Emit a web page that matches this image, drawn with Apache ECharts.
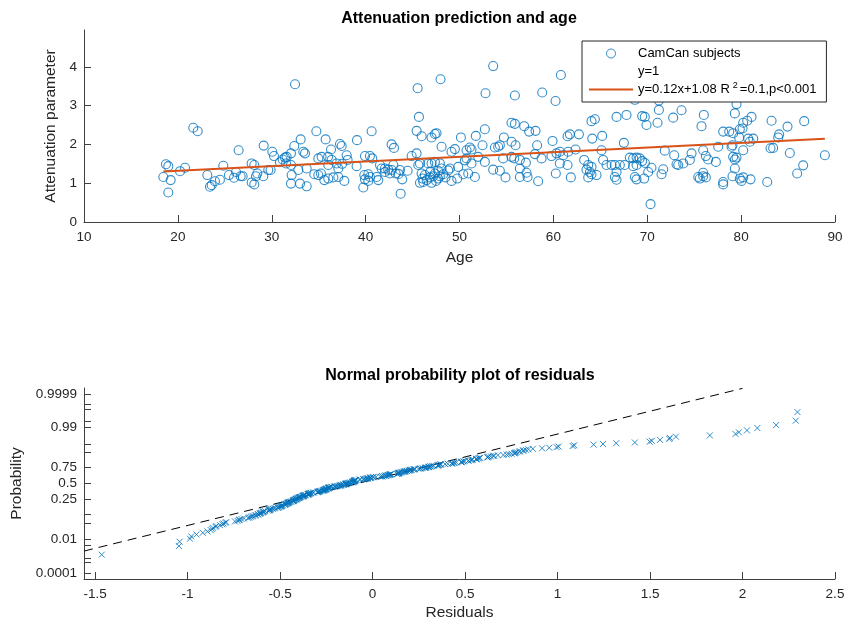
<!DOCTYPE html>
<html>
<head>
<meta charset="utf-8">
<script src="https://cdn.jsdelivr.net/npm/echarts@6.0.0/dist/echarts.min.js"></script>
<style>
  html, body { margin: 0; padding: 0; background: #fff; }
  #chart { width: 848px; height: 628px; }
</style>
</head>
<body>
<div id="chart"></div>
<script>
// subjects: age (years) and attenuation parameter
var ages = [
  18.45,18.73,18.98,19.23,18.98,20.23,20.76,21.64,22.11,23.14,23.42,23.60,23.95,24.48,24.84,25.44,25.98,26.19,26.47,26.69,
  26.90,27.86,27.86,28.14,28.14,28.32,28.46,29.14,29.10,29.63,29.88,30.06,30.24,30.87,31.16,31.41,
  32.48,31.59,32.05,32.40,33.08,33.36,33.54,34.75,35.74,36.31,37.27,37.45,37.98,39.08,40.64,42.77,43.02,45.54,45.68,45.43,
  45.97,31.52,32.05,32.83,32.12,33.72,32.05,33.01,33.72,34.53,34.96,35.31,34.96,35.24,35.60,36.02,36.38,36.02,36.56,36.91,
  37.09,37.09,37.73,38.08,39.04,39.93,40.46,40.71,39.86,40.28,40.46,39.93,40.28,39.75,41.53,41.70,42.06,42.41,42.77,42.59,
  42.06,42.95,41.17,41.35,43.66,44.47,43.90,43.73,44.90,45.43,45.61,45.79,45.79,46.14,37.50,43.20,43.50,36.00,
  53.59,47.98,52.77,55.90,58.81,60.23,60.80,55.54,55.90,56.89,57.42,58.10,52.70,47.38,47.55,47.02,48.09,50.15,51.74,54.73,
  49.51,50.75,51.10,51.28,52.45,53.77,54.12,54.30,55.54,55.97,58.27,59.91,49.15,51.99,50.75,52.70,51.28,54.65,55.54,56.43,
  57.07,58.03,58.74,59.80,60.33,49.86,48.97,46.67,47.02,47.38,47.91,48.09,47.73,47.38,46.31,45.96,46.06,46.84,47.20,47.91,
  48.26,47.73,47.02,49.15,49.76,50.40,51.64,53.59,54.30,54.90,56.43,56.43,57.14,57.25,58.38,50.57,55.83,48.80,50.93,60.26,
  46.50,47.50,46.90,48.50,
  68.68,71.24,71.24,73.65,71.09,69.74,69.46,69.92,67.79,66.73,72.76,64.06,64.42,61.76,61.51,62.72,64.14,65.20,67.51,60.69,
  61.05,61.58,60.69,61.51,62.36,63.28,63.71,64.06,63.53,63.89,64.60,64.06,65.13,65.30,65.66,66.20,66.55,67.08,67.60,66.73,
  66.55,66.73,68.15,68.50,68.86,69.20,69.46,69.75,68.86,68.50,70.45,70.10,68.68,68.86,69.67,71.52,71.70,71.87,72.87,73.12,
  73.30,73.83,74.54,61.86,63.71,70.35,
  79.51,79.33,76.03,75.78,81.11,80.22,80.65,83.24,84.94,86.72,78.09,78.73,79.15,79.86,80.15,79.79,80.75,81.29,80.93,84.05,
  83.95,77.56,78.98,79.08,80.22,83.13,83.41,85.19,74.72,75.96,76.24,76.49,77.31,79.15,79.33,79.51,79.33,75.43,75.60,75.96,
  76.24,75.96,78.09,78.09,79.08,79.86,80.04,80.22,81.00,82.78,85.97,86.61,88.92,
  66.00,74.00,84.00,70.00,78.00,81.00,86.00
];
var attenuation = [
  1.16,1.49,1.44,1.08,0.76,1.31,1.40,2.43,2.34,1.21,0.91,0.95,1.05,1.09,1.45,1.21,1.14,1.29,1.85,1.18,
  1.18,1.51,1.02,0.97,1.47,1.18,1.25,1.97,1.18,1.34,1.34,1.81,1.70,1.54,1.61,1.66,
  3.55,1.68,1.77,1.96,2.13,1.81,1.77,2.34,2.13,1.87,2.01,1.96,1.72,2.11,2.34,2.00,1.91,3.45,2.71,2.35,
  2.21,1.51,1.47,1.34,1.21,1.38,0.99,0.99,0.92,1.23,1.64,1.68,1.21,1.25,1.08,1.47,1.60,1.12,1.15,1.51,
  1.38,1.16,1.06,1.60,1.44,1.70,1.70,1.64,1.21,1.23,1.16,1.10,1.06,0.89,1.47,1.38,1.38,1.35,1.34,1.25,
  1.29,1.47,1.16,1.08,1.34,1.32,1.10,0.73,1.70,1.77,1.47,1.51,1.01,1.03,1.50,1.25,1.24,1.68,
  4.02,3.68,3.32,3.26,3.34,3.12,3.79,2.56,2.53,2.47,2.33,2.35,2.39,2.27,2.29,2.18,1.94,2.18,2.22,2.18,
  1.88,1.85,1.92,1.87,1.98,1.92,1.94,1.98,2.07,1.98,1.98,2.09,1.81,1.68,1.64,1.55,1.51,1.64,1.68,1.60,
  1.53,1.75,1.64,1.70,1.77,1.42,1.38,1.51,1.51,1.55,1.51,1.38,1.32,1.25,1.21,1.25,1.12,1.15,1.18,1.18,
  1.23,1.12,1.01,1.06,1.12,1.23,1.16,1.35,1.32,1.15,1.38,1.16,1.27,1.16,1.05,1.59,1.64,1.33,1.25,1.25,
  1.08,1.06,1.30,1.15,
  3.15,3.13,2.89,2.88,2.56,2.71,2.73,2.50,2.76,2.71,2.69,2.60,2.65,2.26,2.21,2.26,2.15,2.22,2.04,1.81,
  1.72,1.81,1.51,1.47,1.87,1.60,1.47,1.42,1.35,1.29,1.21,1.23,1.85,1.60,1.47,1.47,1.47,1.47,1.47,1.29,
  1.16,1.09,1.66,1.64,1.66,1.64,1.57,1.52,1.47,1.44,1.40,1.29,1.16,1.10,1.12,1.23,1.36,1.84,1.72,1.49,
  1.47,1.51,1.60,1.15,1.15,0.46,
  3.04,2.80,2.76,2.47,2.71,2.56,2.61,2.61,2.46,2.60,2.33,2.33,2.29,2.39,2.41,2.18,2.15,2.15,2.07,2.26,
  2.18,1.94,1.94,1.98,1.85,1.90,1.91,1.78,1.77,1.85,1.70,1.61,1.55,1.68,1.61,1.66,1.38,1.16,1.12,1.18,
  1.15,1.27,1.03,0.97,1.18,1.12,1.06,1.15,1.10,1.03,1.25,1.46,1.72,
  4.16,4.15,4.05,3.56,3.62,3.55,3.53
];
// fit from the legend: y = 0.12x + 1.08, x = age in decades
var fitSlope = 0.12;
var fitIntercept = 1.08;
var fitName = 'y=0.12x+1.08 R2=0.1,p<0.001';

// reference line of the normal probability plot (residual, normal quantile)
var refLineResid = [-1.56, 2.0];
var refLineQuantile = [-2.81, 3.945];

// axis ticks
var ageTicks = [10, 20, 30, 40, 50, 60, 70, 80, 90];
var attTicks = [0, 1, 2, 3, 4];
var residTicks = [-1.5, -1, -0.5, 0, 0.5, 1, 1.5, 2, 2.5];
var probTicks = [0.0001, 0.0005, 0.001, 0.005, 0.01, 0.05, 0.1, 0.25, 0.5, 0.75, 0.9, 0.95, 0.99, 0.995, 0.999, 0.9995, 0.9999];
var probLabels = [0.0001, 0.01, 0.25, 0.5, 0.75, 0.99, 0.9999];

// inverse normal cdf (Acklam)
function norminv(p) {
  var a = [-39.69683028665376, 220.9460984245205, -275.9285104469687, 138.3577518672690, -30.66479806614716, 2.506628277459239];
  var b = [-54.47609879822406, 161.5858368580409, -155.6989798598866, 66.80131188771972, -13.28068155288572];
  var c = [-0.007784894002430293, -0.3223964580411365, -2.400758277161838, -2.549732539343734, 4.374664141464968, 2.938163982698783];
  var d = [0.007784695709041462, 0.3224671290700398, 2.445134137142996, 3.754408661907416];
  var q, r;
  if (p < 0.02425) {
    q = Math.sqrt(-2 * Math.log(p));
    return (((((c[0]*q+c[1])*q+c[2])*q+c[3])*q+c[4])*q+c[5]) / ((((d[0]*q+d[1])*q+d[2])*q+d[3])*q+1);
  }
  if (p > 1 - 0.02425) {
    q = Math.sqrt(-2 * Math.log(1 - p));
    return -(((((c[0]*q+c[1])*q+c[2])*q+c[3])*q+c[4])*q+c[5]) / ((((d[0]*q+d[1])*q+d[2])*q+d[3])*q+1);
  }
  q = p - 0.5; r = q * q;
  return (((((a[0]*r+a[1])*r+a[2])*r+a[3])*r+a[4])*r+a[5])*q / (((((b[0]*r+b[1])*r+b[2])*r+b[3])*r+b[4])*r+1);
}

var subjects = ages.map(function (a, i) { return [a, attenuation[i]]; });
var minAge = Math.min.apply(null, ages), maxAge = Math.max.apply(null, ages);
var fitLine = [[minAge, fitSlope * minAge / 10 + fitIntercept], [maxAge, fitSlope * maxAge / 10 + fitIntercept]];

// residuals, sorted, against normal plotting positions (i-0.5)/n
var residuals = ages.map(function (a, i) { return attenuation[i] - (fitSlope * a / 10 + fitIntercept); })
  .sort(function (x, y) { return x - y; });
var n = residuals.length;
var probPoints = residuals.map(function (r, i) { return [r, norminv((i + 0.5) / n)]; });
var refLine = refLineResid.map(function (r, i) { return [r, refLineQuantile[i]]; });

var probTickZ = probTicks.map(norminv);
var probLabelZ = probLabels.map(norminv);

var FONT = 'Liberation Sans';
var axisCol = '#404040';
var labelCol = '#262626';

function baseAxis(extra) {
  var o = {
    axisLine: { show: true, onZero: false, lineStyle: { color: axisCol, width: 1 } },
    axisTick: { show: true, inside: true, length: 7, lineStyle: { color: axisCol } },
    axisLabel: { color: labelCol, fontFamily: FONT, fontSize: 13.5, margin: 7 },
    splitLine: { show: false },
    nameLocation: 'middle',
    nameTextStyle: { color: labelCol, fontFamily: FONT, fontSize: 15.5 }
  };
  for (var k in extra) {
    if (o[k] && typeof o[k] === 'object' && !Array.isArray(o[k])) {
      o[k] = Object.assign({}, o[k], extra[k]);
    } else {
      o[k] = extra[k];
    }
  }
  return o;
}

var chart = echarts.init(document.getElementById('chart'), null, { renderer: 'canvas' });

var option = {
  animation: false,
  backgroundColor: '#fff',
  graphic: [
    { type: 'text', x: 459, y: 19, style: { text: 'Attenuation prediction and age', align: 'center', verticalAlign: 'middle',
      fontFamily: FONT, fontWeight: 'bold', fontSize: 16, fill: '#000' } },
    { type: 'text', x: 460, y: 376, style: { text: 'Normal probability plot of residuals', align: 'center', verticalAlign: 'middle',
      fontFamily: FONT, fontWeight: 'bold', fontSize: 16, fill: '#000' } }
  ],
  grid: [
    { left: 84, top: 30, width: 751, height: 192 },
    { left: 84, top: 388, width: 751, height: 191 }
  ],
  xAxis: [
    baseAxis({ gridIndex: 0, type: 'value', min: 10, max: 90, interval: 10, name: 'Age', nameGap: 28,
      axisLabel: { margin: 8, customValues: ageTicks }, axisTick: { customValues: ageTicks } }),
    baseAxis({ gridIndex: 1, type: 'value', min: -1.56, max: 2.5, name: 'Residuals', nameGap: 26,
      axisLabel: { margin: 8, customValues: residTicks }, axisTick: { customValues: residTicks } })
  ],
  yAxis: [
    baseAxis({ gridIndex: 0, type: 'value', min: 0, max: 4.95, name: 'Attenuation parameter', nameGap: 21,
      axisLabel: { customValues: attTicks }, axisTick: { customValues: attTicks } }),
    baseAxis({ gridIndex: 1, type: 'value', min: -3.97, max: 3.96, name: 'Probability', nameGap: 57,
      axisTick: { customValues: probTickZ },
      axisLabel: {
        customValues: probLabelZ,
        formatter: function (v) {
          for (var i = 0; i < probLabelZ.length; i++) {
            if (Math.abs(probLabelZ[i] - v) < 1e-6) return String(probLabels[i]);
          }
          return '';
        }
      } })
  ],
  legend: {
    left: 582, top: 41,
    orient: 'vertical',
    selectedMode: false,
    backgroundColor: '#fff',
    borderColor: '#262626',
    borderWidth: 1,
    padding: [4, 10, 4, 6],
    itemWidth: 44,
    itemHeight: 9,
    itemGap: 1,
    itemStyle: { borderWidth: 1 },
    data: ['CamCan subjects', 'y=1', fitName],
    formatter: function (name) {
      return name === fitName ? 'y=0.12x+1.08 R{sup|2}=0.1,p<0.001' : name;
    },
    textStyle: {
      fontFamily: FONT, fontSize: 13, color: '#000', lineHeight: 17,
      rich: { sup: { fontFamily: FONT, fontSize: 9, color: '#000', verticalAlign: 'top', lineHeight: 11, padding: [0, 2, 0, 3] } }
    }
  },
  series: [
    {
      name: 'CamCan subjects', type: 'scatter', xAxisIndex: 0, yAxisIndex: 0,
      symbol: 'circle', symbolSize: 9,
      itemStyle: { color: 'rgba(0,0,0,0)', borderColor: '#0072BD', borderWidth: 1.1 },
      data: subjects, z: 2
    },
    {
      name: 'y=1', type: 'line', xAxisIndex: 0, yAxisIndex: 0, symbol: 'none',
      lineStyle: { color: 'rgba(0,0,0,0)' }, itemStyle: { color: 'rgba(0,0,0,0)', opacity: 0 },
      data: []
    },
    {
      name: fitName, type: 'line', xAxisIndex: 0, yAxisIndex: 0, symbol: 'none',
      lineStyle: { color: '#D95319', width: 2 }, itemStyle: { color: '#D95319', opacity: 0 },
      data: fitLine, z: 3
    },
    {
      name: 'residuals', type: 'scatter', xAxisIndex: 1, yAxisIndex: 1,
      symbol: 'path://M0 0L10 10M10 0L0 10', symbolSize: 6,
      itemStyle: { color: 'rgba(0,0,0,0)', borderColor: '#0072BD', borderWidth: 1 },
      data: probPoints, z: 3
    },
    {
      name: 'reference', type: 'line', xAxisIndex: 1, yAxisIndex: 1, symbol: 'none',
      lineStyle: { color: '#000', width: 1, type: [9, 6] },
      data: refLine, z: 2
    }
  ]
};
chart.setOption(option);
</script>
</body>
</html>
